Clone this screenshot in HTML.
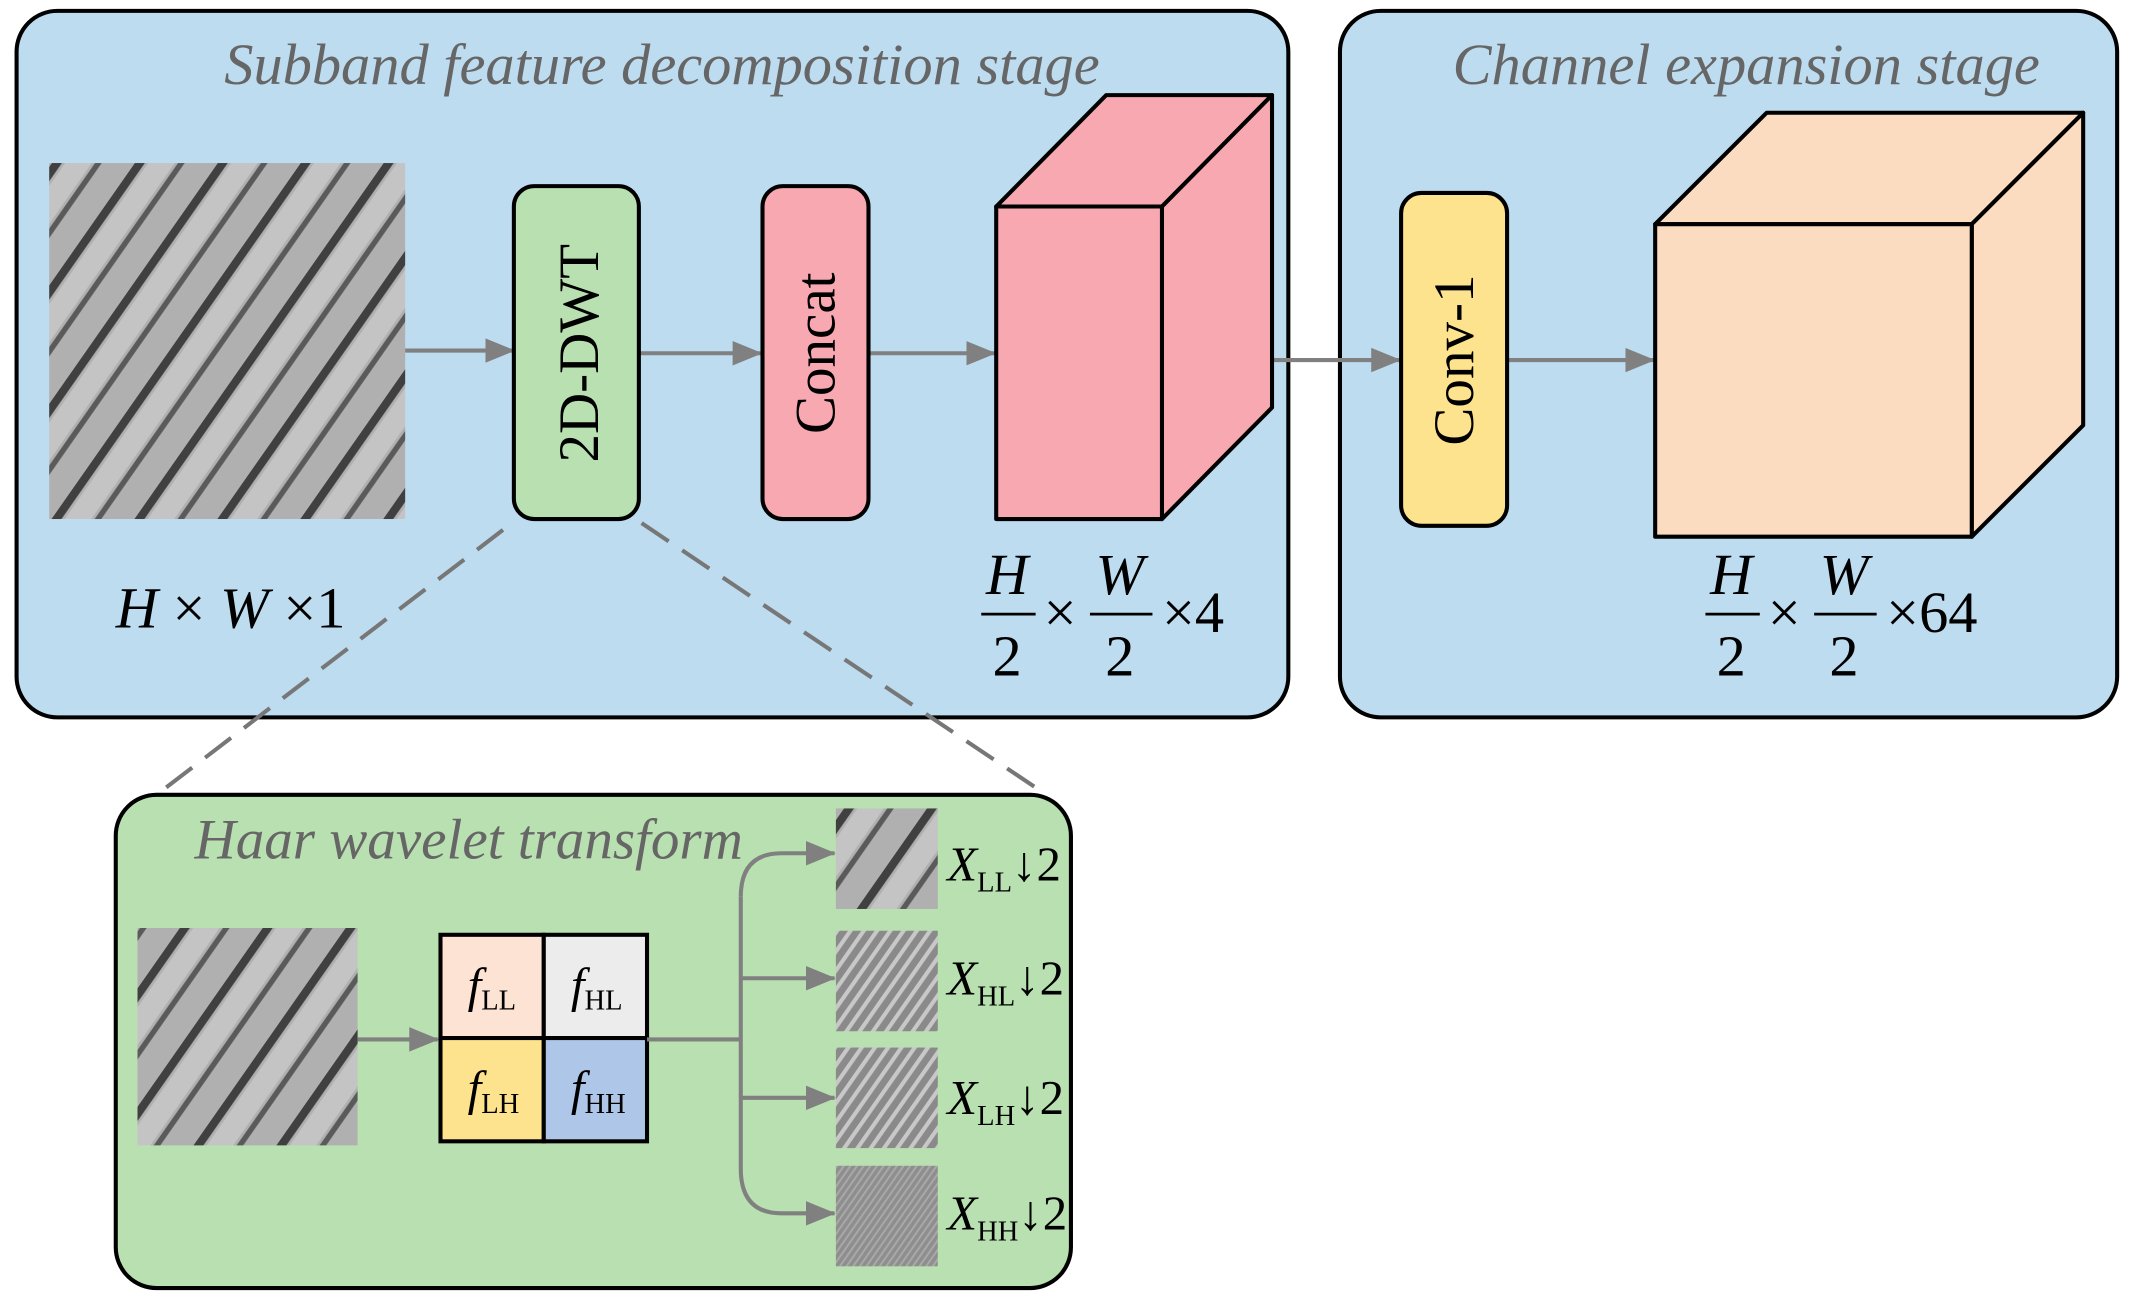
<!DOCTYPE html>
<html><head><meta charset="utf-8"><style>html,body{margin:0;padding:0;background:#fff}svg{display:block}</style></head>
<body>
<svg width="2131" height="1303" viewBox="0 0 1568 959" xmlns="http://www.w3.org/2000/svg" style="font-family:'Liberation Serif',serif">
<defs>
<marker id="ar" markerWidth="22" markerHeight="18" refX="21" refY="9" orient="auto" markerUnits="userSpaceOnUse" viewBox="0 0 22 18"><path d="M0,0 L22,9 L0,18z" fill="#808080"/></marker>
<pattern id="bf" width="50" height="50" patternUnits="userSpaceOnUse" patternTransform="rotate(35)">
<rect width="50" height="50" fill="#b0b0b0"/>
<rect x="0" y="0" width="6" height="50" fill="#404040"/>
<rect x="26" y="0" width="4" height="50" fill="#5a5a5a"/>
<rect x="8" y="0" width="16" height="50" fill="#c4c4c4"/>
</pattern>
<pattern id="sb" width="8" height="8" patternUnits="userSpaceOnUse" patternTransform="rotate(35)">
<rect width="8" height="8" fill="#8a8a8a"/><rect width="3" height="8" fill="#c8c8c8"/>
</pattern>
<pattern id="hh" width="4" height="4" patternUnits="userSpaceOnUse" patternTransform="rotate(35)">
<rect width="4" height="4" fill="#8e8e8e"/><rect width="1.5" height="4" fill="#a8a8a8"/>
</pattern>
</defs>
<rect width="1568" height="959" fill="#fff"/>
<rect x="12" y="8" width="936" height="520" rx="30" fill="#bddcf0" stroke="#000" stroke-width="3"/>
<rect x="986" y="8" width="572" height="520" rx="30" fill="#bddcf0" stroke="#000" stroke-width="3"/>
<text x="487" y="62" text-anchor="middle" font-size="43" font-style="italic" fill="#666">Subband feature decomposition stage</text>
<text x="1285" y="62" text-anchor="middle" font-size="43" font-style="italic" fill="#666">Channel expansion stage</text>
<rect x="36" y="120" width="262" height="262" fill="url(#bf)"/>
<g stroke="#808080" stroke-width="3" fill="none" marker-end="url(#ar)">
<line x1="298" y1="258" x2="378" y2="258"/>
<line x1="470" y1="260" x2="560" y2="260"/>
<line x1="639" y1="260" x2="732" y2="260"/>
<line x1="936" y1="265" x2="1030" y2="265"/>
<line x1="1109" y1="265" x2="1217" y2="265"/>
</g>
<rect x="378" y="137" width="92" height="245" rx="15" fill="#b8e0b0" stroke="#000" stroke-width="3"/>
<text transform="translate(440,260) rotate(-90)" text-anchor="middle" font-size="42">2D-DWT</text>
<rect x="561" y="137" width="78" height="245" rx="15" fill="#f7a8b0" stroke="#000" stroke-width="3"/>
<text transform="translate(614,260) rotate(-90)" text-anchor="middle" font-size="42">Concat</text>
<rect x="1031" y="142" width="78" height="245" rx="15" fill="#fde38e" stroke="#000" stroke-width="3"/>
<text transform="translate(1084,265) rotate(-90)" text-anchor="middle" font-size="42">Conv-1</text>
<g stroke="#000" stroke-width="3" stroke-linejoin="round" fill="#f7a8b0">
<path d="M733,152 L814,70 L936,70 L855,152Z"/>
<path d="M855,152 L936,70 L936,300 L855,382Z"/>
<rect x="733" y="152" width="122" height="230"/>
</g>
<g stroke="#000" stroke-width="3" stroke-linejoin="round" fill="#fcdcc0">
<path d="M1218,165 L1300,83 L1533,83 L1451,165Z"/>
<path d="M1451,165 L1533,83 L1533,313 L1451,395Z"/>
<rect x="1218" y="165" width="233" height="230"/>
</g>
<text x="85" y="462" font-size="43"><tspan font-style="italic">H</tspan> × <tspan font-style="italic">W</tspan> ×1</text>
<g font-size="43">
<text x="741" y="437" text-anchor="middle" font-style="italic">H</text><line x1="722" y1="452" x2="762" y2="452" stroke="#000" stroke-width="2"/><text x="741" y="497" text-anchor="middle">2</text>
<text x="780" y="465" text-anchor="middle">×</text>
<text x="824" y="437" text-anchor="middle" font-style="italic">W</text><line x1="802" y1="452" x2="848" y2="452" stroke="#000" stroke-width="2"/><text x="824" y="497" text-anchor="middle">2</text>
<text x="855" y="465">×4</text>
<text x="1274" y="437" text-anchor="middle" font-style="italic">H</text><line x1="1255" y1="452" x2="1295" y2="452" stroke="#000" stroke-width="2"/><text x="1274" y="497" text-anchor="middle">2</text>
<text x="1313" y="465" text-anchor="middle">×</text>
<text x="1357" y="437" text-anchor="middle" font-style="italic">W</text><line x1="1335" y1="452" x2="1381" y2="452" stroke="#000" stroke-width="2"/><text x="1357" y="497" text-anchor="middle">2</text>
<text x="1388" y="465">×64</text>
</g>
<g stroke="#777" stroke-width="3" stroke-dasharray="24,12">
<line x1="370" y1="390" x2="115" y2="585"/>
<line x1="472" y1="385" x2="770" y2="585"/>
</g>
<rect x="85" y="585" width="703" height="363" rx="30" fill="#b9e0b0" stroke="#000" stroke-width="3"/>
<text x="143" y="632" font-size="42" font-style="italic" fill="#666">Haar wavelet transform</text>
<rect x="101" y="683" width="162" height="160" fill="url(#bf)"/>
<line x1="263" y1="765" x2="322" y2="765" stroke="#808080" stroke-width="3" marker-end="url(#ar)"/>
<g stroke="#000" stroke-width="3">
<rect x="324" y="688" width="76" height="76" fill="#fde3d3"/>
<rect x="400" y="688" width="76" height="76" fill="#ececec"/>
<rect x="324" y="764" width="76" height="76" fill="#fde38e"/>
<rect x="400" y="764" width="76" height="76" fill="#aec7e8"/>
</g>
<g font-size="36">
<text x="344" y="737" font-style="italic">f<tspan font-size="21" font-style="normal" dy="6">LL</tspan></text>
<text x="420" y="737" font-style="italic">f<tspan font-size="21" font-style="normal" dy="6">HL</tspan></text>
<text x="344" y="813" font-style="italic">f<tspan font-size="21" font-style="normal" dy="6">LH</tspan></text>
<text x="420" y="813" font-style="italic">f<tspan font-size="21" font-style="normal" dy="6">HH</tspan></text>
</g>
<g stroke="#808080" stroke-width="3" fill="none">
<line x1="476" y1="765" x2="545" y2="765"/>
<path d="M545,660 Q545,628 575,628 L614,628" marker-end="url(#ar)"/>
<path d="M545,660 L545,860"/>
<path d="M545,860 Q545,893 575,893 L614,893" marker-end="url(#ar)"/>
<line x1="545" y1="720" x2="614" y2="720" marker-end="url(#ar)"/>
<line x1="545" y1="808" x2="614" y2="808" marker-end="url(#ar)"/>
</g>
<rect x="615" y="595" width="75" height="74" fill="url(#bf)"/>
<rect x="615" y="685" width="75" height="74" fill="url(#sb)"/>
<rect x="615" y="771" width="75" height="74" fill="url(#sb)"/>
<rect x="615" y="858" width="75" height="74" fill="url(#hh)"/>
<g font-size="36">
<text x="697" y="648"><tspan font-style="italic">X</tspan><tspan font-size="21" dy="8">LL</tspan><tspan dy="-8">↓2</tspan></text>
<text x="697" y="732"><tspan font-style="italic">X</tspan><tspan font-size="21" dy="8">HL</tspan><tspan dy="-8">↓2</tspan></text>
<text x="697" y="820"><tspan font-style="italic">X</tspan><tspan font-size="21" dy="8">LH</tspan><tspan dy="-8">↓2</tspan></text>
<text x="697" y="905"><tspan font-style="italic">X</tspan><tspan font-size="21" dy="8">HH</tspan><tspan dy="-8">↓2</tspan></text>
</g>
</svg>
</body></html>
